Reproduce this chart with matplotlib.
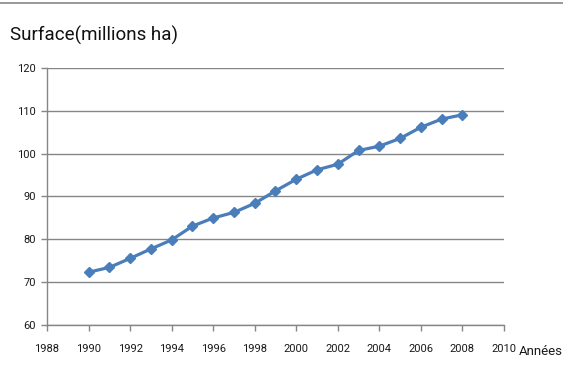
import matplotlib
matplotlib.use('Agg')
import matplotlib.pyplot as plt
from matplotlib.lines import Line2D

years = [1990, 1991, 1992, 1993, 1994, 1995, 1996, 1997, 1998, 1999,
         2000, 2001, 2002, 2003, 2004, 2005, 2006, 2007, 2008]
surface = [72.4, 73.5, 75.6, 77.8, 79.9, 83.1, 85.0, 86.3, 88.4, 91.3,
           94.0, 96.2, 97.5, 100.7, 101.7, 103.5, 106.1, 108.0, 109.0]
x_ticks = list(range(1988, 2011, 2))
y_ticks = list(range(60, 121, 10))

plt.rcParams['font.family'] = ['Roboto', 'DejaVu Sans']

grey = '#868686'
fig = plt.figure(figsize=(5.63, 3.74), dpi=100)
ax = fig.add_axes([0.0835, 0.1297, 0.8115, 0.6898])

ax.plot(years, surface, color='#4A7EBB', linewidth=2.3, marker='D',
        markersize=5.5, markerfacecolor='#4A7EBB', markeredgecolor='#4A7EBB')

ax.set_xlim(1988, 2010)
ax.set_ylim(60, 120)
ax.set_xticks(x_ticks)
ax.set_yticks(y_ticks)
ax.yaxis.grid(True, color=grey, linewidth=1.0)
ax.set_axisbelow(True)

for side in ('top', 'right'):
    ax.spines[side].set_visible(False)
for side in ('left', 'bottom'):
    ax.spines[side].set_color(grey)
    ax.spines[side].set_linewidth(1.0)

ax.tick_params(axis='both', colors=grey, length=4, width=1.0, labelcolor='#1a1a1a',
               labelsize=8)
ax.tick_params(axis='x', pad=9)
ax.tick_params(axis='y', pad=4)

fig.text(0.018, 0.905, 'Surface(millions ha)', fontsize=13.5, color='#111111',
         va='center', ha='left')
fig.text(0.999, 0.06, 'Années', fontsize=9.5, color='#1a1a1a', va='center', ha='right')

fig.add_artist(Line2D([0, 1], [0.993, 0.993], transform=fig.transFigure,
                      color=grey, linewidth=1.2))

fig.savefig('out.png', dpi=100, facecolor='white')
